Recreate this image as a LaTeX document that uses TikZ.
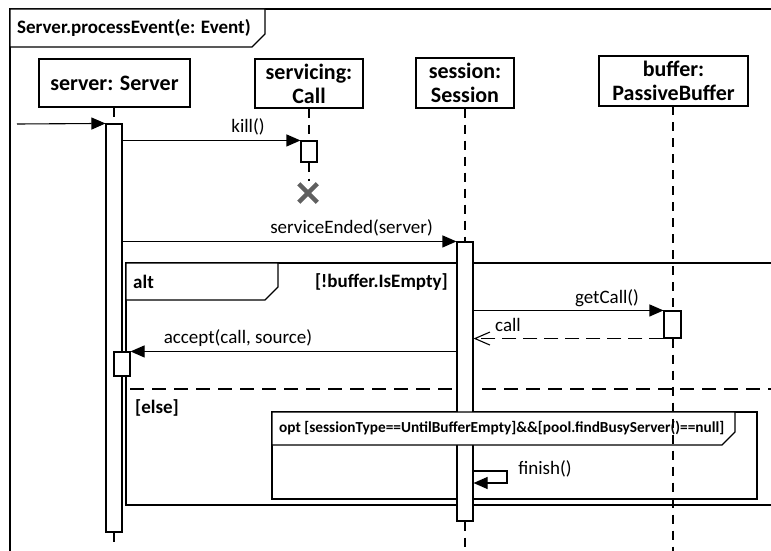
\documentclass[tikz,border=0pt]{standalone}
\usepackage{fontspec}
\setmainfont{Carlito}
\usetikzlibrary{arrows.meta,shapes.misc}
\definecolor{xgray}{RGB}{96,96,96}
\begin{document}
\begin{tikzpicture}[x=1pt,y=-1pt,
  obj/.style={draw,line width=1.1pt,fill=white,inner sep=0pt,align=center,font=\fontsize{22}{24}\selectfont\bfseries},
  bar/.style={draw,line width=1.1pt,fill=white,inner sep=0pt,minimum width=16pt},
  life/.style={line width=1.1pt,dash pattern=on 9pt off 7pt},
  msg/.style={line width=1.1pt,-{Triangle[length=14pt,width=12pt]}},
  ret/.style={line width=1.1pt,dash pattern=on 14pt off 7pt,-{Straight Barb[length=15pt,width=13pt]}},
  lbl/.style={inner sep=0pt,font=\fontsize{19}{22}\selectfont},
  frm/.style={line width=1.1pt},
  ftitle/.style={inner sep=0pt,anchor=west,font=\fontsize{19}{22}\selectfont\bfseries},
]
\useasboundingbox (0,0) rectangle (771,551);

% outer frame
\draw[frm] (10,551) -- (10,9) -- (790,9);
\draw[frm,fill=white] (10,9) -- (10,47) -- (252,47) -- (265,34) -- (265,9) -- cycle;
\node[ftitle] (title) at (17,28) {Server.processEvent(e: Event)};

% alt frame
\draw[frm] (790,263) -- (126,263) -- (126,505) -- (790,505);
\draw[frm,fill=white] (126,263) -- (126,300) -- (265,300) -- (278,287) -- (278,263) -- cycle;
\node[ftitle] (altl) at (133,282) {alt};
\node[ftitle,anchor=east] (guard1) at (448,282) {[!buffer.IsEmpty]};
\draw[frm,dash pattern=on 14pt off 8pt] (130,389) -- (790,389);
\node[ftitle] (guard2) at (135,408) {[else]};

% opt frame
\draw[frm] (272,412) rectangle (757,499);

% objects
\node[obj,minimum width=151pt,minimum height=48pt] (srv) at (114.5,83) {server: Server};
\node[obj,minimum width=108pt,minimum height=49pt] (svc) at (309,83.5) {servicing:\\Call};
\node[obj,minimum width=98pt,minimum height=50pt] (ses) at (465,83) {session:\\Session};
\node[obj,minimum width=149pt,minimum height=50pt] (buf) at (673.5,81) {buffer:\\PassiveBuffer};

% bars (positions)
\path (114,328) node[bar,minimum height=408pt,draw=none,fill=none] (srvbar) {};
\path (309,151.5) node[bar,minimum height=21pt,draw=none,fill=none] (svcbar) {};
\path (465,381.5) node[bar,minimum height=279pt,draw=none,fill=none] (sesbar) {};
\path (672.5,324.5) node[bar,minimum height=27pt,minimum width=17pt,draw=none,fill=none] (bufbar) {};
\path (122,364) node[bar,minimum height=24pt,draw=none,fill=none] (srvbar2) {};
\node[cross out,draw=xgray,line width=4.5pt,minimum size=14pt,inner sep=0pt] (dx) at (308,193) {};

% lifelines
\draw[life] (srvbar.north |- srv.south) -- (srvbar.north);
\draw[life] (srvbar.south) -- ++(0,12);
\draw[life] (svcbar.north |- svc.south) -- (svcbar.north);
\draw[life,shorten >=3pt] (svcbar.south) -- (svcbar.south |- dx.north);
\draw[life] (sesbar.north |- ses.south) -- (sesbar.north);
\draw[life] (sesbar.south) -- (465,551);
\draw[life] (673,106) -- (673,311);

% bars drawn
\node[bar,minimum height=408pt] at (srvbar) {};
\node[bar,minimum height=21pt] at (svcbar) {};
\node[bar,minimum height=279pt] at (sesbar) {};
\node[bar,minimum height=27pt,minimum width=17pt] at (bufbar) {};
\node[bar,minimum height=24pt] at (srvbar2) {};

% opt header
\draw[frm,fill=white] (272,412) -- (272,445) -- (722,445) -- (735,432) -- (735,412) -- cycle;
\node[ftitle,font=\fontsize{15.3}{17}\selectfont\bfseries] (optl) at (279,428) {opt [sessionType==UntilBufferEmpty]\&\&[pool.findBusyServer()==null]};
\draw[life] (bufbar.south -| 673,0) -- (673,551);

% messages
\coordinate (in) at (17,124);
\draw[msg] (in) -- (srvbar.north west);
\draw[msg] (srvbar.east |- svcbar.north) -- (svcbar.north west);
\draw[msg] (srvbar.east |- sesbar.north) -- (sesbar.north west);
\draw[msg] (sesbar.east |- bufbar.north) -- (bufbar.north west);
\draw[ret] (bufbar.south west) -- (sesbar.east |- bufbar.south);
\draw[msg] (sesbar.west |- srvbar2.north) -- (srvbar2.north east);
\coordinate (fa) at (507,471);
\coordinate (fb) at (507,483);
\draw[msg] (sesbar.east |- fa) -- (fa) -- (fb) -- (sesbar.east |- fb);

% labels
\node[lbl] (l1) at (248,127) {kill()};
\node[lbl] (l2) at (351.5,228) {serviceEnded(server)};
\node[lbl] (l3) at (607,298) {getCall()};
\node[lbl] (l4) at (508,325) {call};
\node[lbl] (l5) at (238,338) {accept(call, source)};
\node[lbl] (l6) at (545,469) {finish()};
\end{tikzpicture}
\end{document}
